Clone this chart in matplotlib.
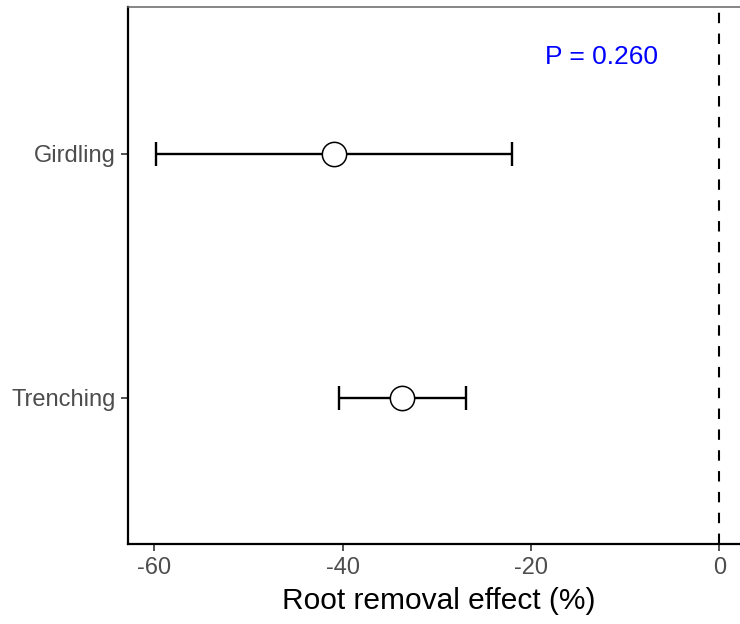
import matplotlib
matplotlib.use("Agg")
import matplotlib.pyplot as plt

plt.rcParams['font.family'] = ['Liberation Sans', 'DejaVu Sans']
plt.rcParams['axes.unicode_minus'] = False

# root removal methods and their effect estimates (%)
methods = ["Trenching", "Girdling"]
effect_mean = [-33.7, -40.9]
ci_low = [-40.4, -59.8]
ci_high = [-26.9, -22.0]
p_label = "P = 0.260"

fig = plt.figure(figsize=(7.4, 6.24), dpi=100)
ax = fig.add_axes([0.173, 0.128, 0.827, 0.86])

ypos = list(range(1, len(methods) + 1))
xerr = [[m - lo for m, lo in zip(effect_mean, ci_low)],
        [hi - m for m, hi in zip(effect_mean, ci_high)]]

ax.axvline(0, color="black", lw=1.5, linestyle=(0, (5, 5)), zorder=1)
ax.errorbar(effect_mean, ypos, xerr=xerr, fmt="none", ecolor="black",
            elinewidth=1.7, capsize=8.7, capthick=1.7, zorder=2)
ax.plot(effect_mean, ypos, "o", ms=17.5, mfc="white", mec="black",
        mew=1.1, zorder=3)

ax.text(-12.5, 2.395, p_label, color="blue", fontsize=19,
        ha="center", va="center")

ax.set_xlim(-62.8, 2.2)
ax.set_ylim(0.4, 2.6)
ax.set_xticks([-60, -40, -20, 0])
ax.set_yticks(ypos)
ax.set_yticklabels(methods)
ax.set_xlabel("Root removal effect (%)", fontsize=21.5)
ax.xaxis.set_label_coords(0.508, -0.080)

ax.tick_params(axis="both", colors="#333333", labelcolor="#4D4D4D",
               labelsize=17, length=5, width=1.2, pad=4)

for side in ["left", "bottom"]:
    ax.spines[side].set_linewidth(1.6)
    ax.spines[side].set_color("black")
ax.spines["top"].set_linewidth(1.1)
ax.spines["top"].set_color("#666666")
ax.spines["right"].set_visible(False)

fig.savefig("out.png", dpi=100)
